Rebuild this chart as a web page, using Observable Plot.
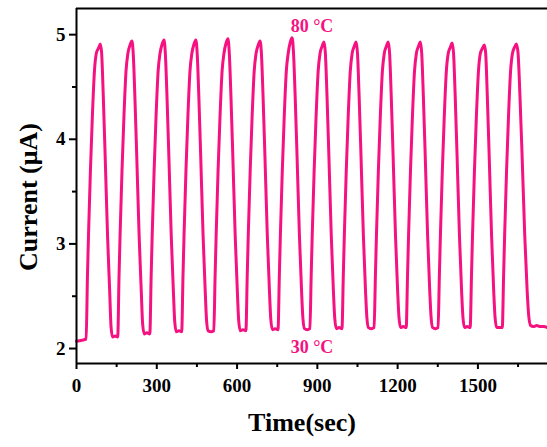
<!DOCTYPE html>
<html>
<head>
<meta charset="utf-8">
<script src="https://cdn.jsdelivr.net/npm/d3@7"></script>
<script src="https://cdn.jsdelivr.net/npm/@observablehq/plot@0.6"></script>
<style>
  html, body { margin: 0; padding: 0; background: #ffffff; }
  #chart { width: 547px; height: 447px; overflow: hidden; }
</style>
</head>
<body>
<div id="chart"></div>
<script>
// Time (sec) and current (µA), one line per heating cycle
const timeSec = [
  0, 20,
  36, 41, 45, 52, 59, 67, 74, 82, 89, 94, 100, 107, 116, 124, 129, 135, 145,
  154, 159, 163, 170, 177, 185, 192, 200, 207, 212, 218, 225, 234, 242, 247, 253, 263,
  274, 279, 283, 290, 297, 305, 312, 320, 327, 332, 338, 345, 354, 362, 367, 373, 383,
  393, 398, 402, 409, 416, 424, 431, 439, 446, 451, 457, 464, 473, 481, 486, 492, 502,
  513, 518, 522, 529, 536, 544, 551, 559, 566, 571, 577, 584, 593, 601, 606, 612, 622,
  633, 638, 642, 649, 656, 664, 671, 679, 686, 691, 697, 704, 713, 721, 726, 732, 742,
  753, 758, 762, 769, 776, 784, 791, 799, 806, 811, 817, 824, 833, 841, 846, 852, 862,
  872, 877, 881, 888, 895, 903, 910, 918, 925, 930, 936, 943, 952, 960, 965, 971, 981,
  992, 997, 1001, 1008, 1015, 1023, 1030, 1038, 1045, 1050, 1056, 1063, 1072, 1080, 1085, 1091, 1101,
  1112, 1117, 1121, 1128, 1135, 1143, 1150, 1158, 1165, 1170, 1176, 1183, 1192, 1200, 1205, 1211, 1221,
  1232, 1237, 1241, 1248, 1255, 1263, 1270, 1278, 1285, 1290, 1296, 1303, 1312, 1320, 1325, 1331, 1341,
  1351, 1356, 1360, 1367, 1374, 1382, 1389, 1397, 1404, 1409, 1415, 1422, 1431, 1439, 1444, 1450, 1460,
  1471, 1476, 1480, 1487, 1494, 1502, 1509, 1517, 1524, 1529, 1535, 1542, 1551, 1559, 1564, 1570, 1580,
  1591, 1596, 1600, 1607, 1614, 1622, 1629, 1637, 1644, 1650, 1657, 1665, 1675, 1684, 1690, 1697, 1707, 1720, 1733, 1746, 1760
];
const currentUA = [
  2.07, 2.08,
  2.09, 2.70, 3.10, 3.70, 4.20, 4.65, 4.82, 4.87, 4.91, 4.82, 4.42, 3.85, 3.08, 2.55, 2.21, 2.11, 2.12,
  2.11, 2.70, 3.10, 3.70, 4.20, 4.65, 4.82, 4.90, 4.94, 4.82, 4.42, 3.85, 3.08, 2.55, 2.24, 2.14, 2.15,
  2.14, 2.70, 3.10, 3.70, 4.20, 4.65, 4.82, 4.91, 4.95, 4.82, 4.42, 3.85, 3.08, 2.55, 2.26, 2.16, 2.17,
  2.16, 2.70, 3.10, 3.70, 4.20, 4.65, 4.82, 4.91, 4.95, 4.82, 4.42, 3.85, 3.08, 2.55, 2.27, 2.17, 2.16,
  2.17, 2.70, 3.10, 3.70, 4.20, 4.65, 4.82, 4.92, 4.96, 4.82, 4.42, 3.85, 3.08, 2.55, 2.27, 2.17, 2.18,
  2.17, 2.70, 3.10, 3.70, 4.20, 4.65, 4.82, 4.90, 4.94, 4.82, 4.42, 3.85, 3.08, 2.55, 2.28, 2.18, 2.19,
  2.18, 2.70, 3.10, 3.70, 4.20, 4.65, 4.82, 4.93, 4.97, 4.82, 4.42, 3.85, 3.08, 2.55, 2.29, 2.19, 2.18,
  2.19, 2.70, 3.10, 3.70, 4.20, 4.65, 4.82, 4.89, 4.93, 4.82, 4.42, 3.85, 3.08, 2.55, 2.29, 2.19, 2.20,
  2.19, 2.70, 3.10, 3.70, 4.20, 4.65, 4.82, 4.89, 4.93, 4.82, 4.42, 3.85, 3.08, 2.55, 2.30, 2.20, 2.19,
  2.20, 2.70, 3.10, 3.70, 4.20, 4.65, 4.82, 4.89, 4.93, 4.82, 4.42, 3.85, 3.08, 2.55, 2.30, 2.20, 2.21,
  2.20, 2.70, 3.10, 3.70, 4.20, 4.65, 4.82, 4.89, 4.93, 4.82, 4.42, 3.85, 3.08, 2.55, 2.30, 2.20, 2.19,
  2.20, 2.70, 3.10, 3.70, 4.20, 4.65, 4.82, 4.88, 4.92, 4.82, 4.42, 3.85, 3.08, 2.55, 2.30, 2.20, 2.21,
  2.20, 2.70, 3.10, 3.70, 4.20, 4.65, 4.82, 4.87, 4.90, 4.82, 4.42, 3.85, 3.08, 2.55, 2.30, 2.20, 2.20,
  2.20, 2.70, 3.10, 3.70, 4.20, 4.65, 4.82, 4.88, 4.91, 4.82, 4.42, 3.85, 3.08, 2.55, 2.31, 2.22, 2.21, 2.22, 2.21, 2.21, 2.20
];
const xMajorTicks = [0, 300, 600, 900, 1200, 1500];
const xMinorTicks = [150, 450, 750, 1050, 1350, 1650];
const yMajorTicks = [2, 3, 4, 5];
const yMinorTicks = [2.5, 3.5, 4.5];
const xDomain = [0, 1760];
const yDomain = [1.857, 5.25];
const annotations = ["80 °C", "30 °C"];
const xTitle = "Time(sec)";
const yTitle = "Current (\u03BCA)";

const pink = "#f5117f";
const data = timeSec.map((t, i) => ({t, v: currentUA[i]}));
const plain = d => String(d);

const chart = Plot.plot({
  width: 547,
  height: 447,
  marginLeft: 76,
  marginRight: 0,
  marginTop: 8,
  marginBottom: 84,
  style: {fontFamily: "Liberation Serif, Times New Roman, serif", fontWeight: "bold", fontSize: "19px", color: "#000", background: "#fff", overflow: "visible"},
  x: {domain: xDomain},
  y: {domain: yDomain},
  marks: [
    Plot.line(data, {x: "t", y: "v", stroke: pink, strokeWidth: 3, curve: "monotone-x", strokeLinejoin: "round"}),
    Plot.ruleY([yDomain[0]], {stroke: "#000", strokeWidth: 2}),
    Plot.ruleY([yDomain[1]], {stroke: "#000", strokeWidth: 2}),
    Plot.ruleX([xDomain[0]], {stroke: "#000", strokeWidth: 2}),
    Plot.axisX({ticks: xMajorTicks, tickFormat: plain, tickSize: 6, tickPadding: 9, strokeWidth: 2, label: null, fontSize: 19}),
    Plot.axisX({ticks: xMinorTicks, tickSize: 4, strokeWidth: 2, text: null, label: null}),
    Plot.axisY({ticks: yMajorTicks, tickFormat: plain, tickSize: 7, tickPadding: 4, strokeWidth: 2, label: null, fontSize: 19}),
    Plot.axisY({ticks: yMinorTicks, tickSize: 4, strokeWidth: 2, text: null, label: null}),
    Plot.text([annotations[0]], {text: d => d, frameAnchor: "top", textAnchor: "middle", dy: 18, lineAnchor: "middle", fill: pink, fontSize: 18, fontWeight: "bold"}),
    Plot.text([annotations[1]], {text: d => d, frameAnchor: "bottom", textAnchor: "middle", dy: -16, lineAnchor: "middle", fill: pink, fontSize: 18, fontWeight: "bold"}),
    Plot.text([xTitle], {text: d => d, frameAnchor: "bottom", textAnchor: "middle", dx: -10, dy: 59, lineAnchor: "middle", fill: "#000", fontSize: 26, fontWeight: "bold"}),
    Plot.text([yTitle], {text: d => d, frameAnchor: "left", textAnchor: "middle", rotate: -90, dx: -48, dy: 11, lineAnchor: "middle", fill: "#000", fontSize: 26, fontWeight: "bold"})
  ]
});
document.getElementById("chart").appendChild(chart);
</script>
</body>
</html>
